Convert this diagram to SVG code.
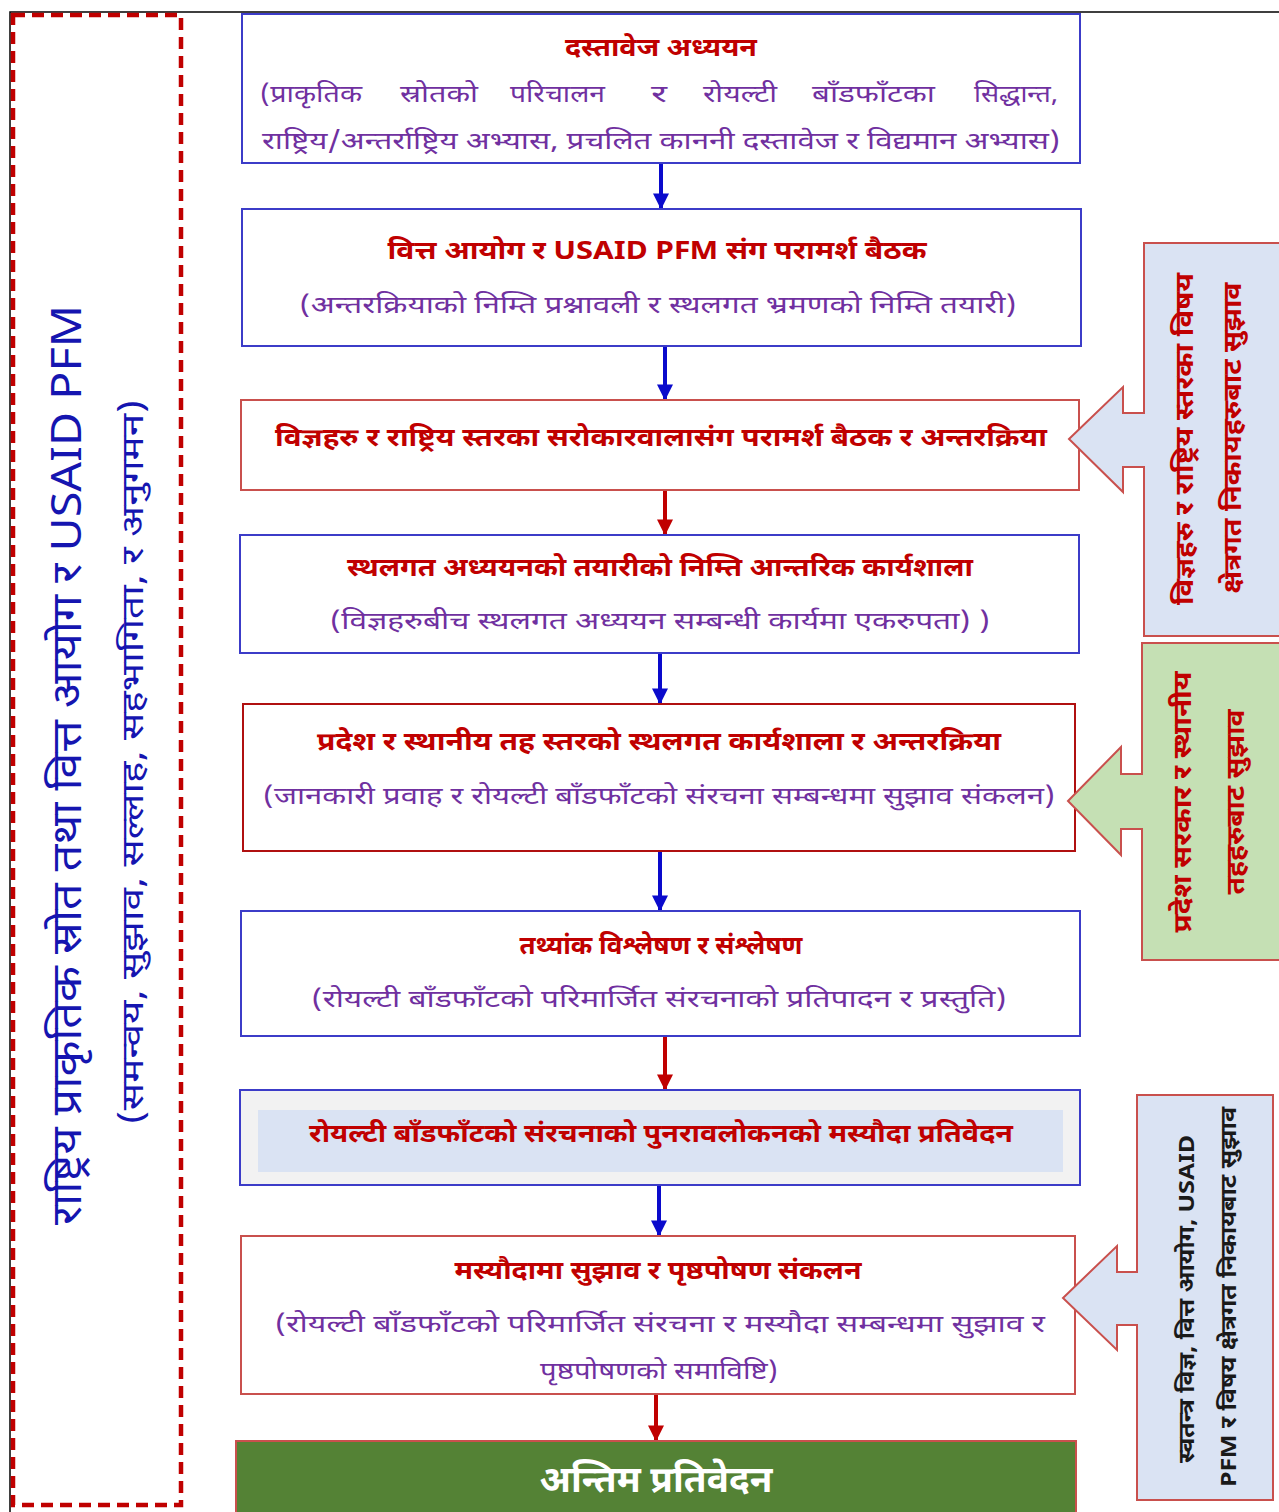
<svg xmlns="http://www.w3.org/2000/svg" width="1279" height="1512" viewBox="0 0 1279 1512">
<defs>
<style>
.t{font-family:"Noto Sans Devanagari","Lohit Devanagari","Noto Sans","DejaVu Sans",sans-serif;}
.title{font-size:25px;fill:#c00000;font-weight:bold;text-anchor:middle;}
.body{font-size:24px;fill:#7030a0;text-anchor:middle;}
.w{font-size:24px;fill:#7030a0;}
.bb{fill:#ffffff;stroke:#3c3cc8;stroke-width:2;}
.rb{fill:#ffffff;stroke:#c9504d;stroke-width:2;}
.side{font-size:25px;fill:#c00000;text-anchor:middle;font-weight:bold;}
.callout{stroke:#c9504d;stroke-width:2;stroke-linejoin:miter;}
.ab{stroke:#0a0acc;stroke-width:4;fill:none;}
.ar{stroke:#c00000;stroke-width:4;fill:none;}
</style>
<marker id="mb" viewBox="0 0 10 10" refX="9" refY="5" markerWidth="4.5" markerHeight="4" orient="auto" markerUnits="strokeWidth"><path d="M0,0 L10,5 L0,10 z" fill="#0a0acc"/></marker>
<marker id="mr" viewBox="0 0 10 10" refX="9" refY="5" markerWidth="4.5" markerHeight="4" orient="auto" markerUnits="strokeWidth"><path d="M0,0 L10,5 L0,10 z" fill="#c00000"/></marker>
</defs>
<rect width="1279" height="1512" fill="#ffffff"/>
<g id="frame">
<path d="M10,1512 L10,12 L1279,12" fill="none" stroke="#000" stroke-width="1.5"/>
<rect x="13" y="15" width="168" height="1490" fill="none" stroke="#c00000" stroke-width="4.5" stroke-dasharray="12 7"/>
</g>
<g id="left-label" class="t">
<text x="70" y="765" transform="rotate(-90 70 765)" font-size="42" fill="#1515b0" text-anchor="middle" dominant-baseline="central" textLength="920" lengthAdjust="spacingAndGlyphs">राष्ट्रिय प्राकृतिक स्रोत तथा वित्त आयोग र USAID PFM</text>
<text x="135" y="762" transform="rotate(-90 135 762)" font-size="31" fill="#1515b0" text-anchor="middle" dominant-baseline="central" textLength="725" lengthAdjust="spacingAndGlyphs">(समन्वय, सुझाव, सल्लाह, सहभागिता, र अनुगमन)</text>
</g>
<g id="connectors">
<line class="ab" x1="661" y1="163" x2="661" y2="208" marker-end="url(#mb)"/>
<line class="ab" x1="665" y1="346" x2="665" y2="399" marker-end="url(#mb)"/>
<line class="ar" x1="665" y1="490" x2="665" y2="534" marker-end="url(#mr)"/>
<line class="ab" x1="660" y1="653" x2="660" y2="703" marker-end="url(#mb)"/>
<line class="ab" x1="660" y1="851" x2="660" y2="910" marker-end="url(#mb)"/>
<line class="ar" x1="665" y1="1036" x2="665" y2="1089" marker-end="url(#mr)"/>
<line class="ab" x1="659" y1="1185" x2="659" y2="1235" marker-end="url(#mb)"/>
<line class="ar" x1="656" y1="1394" x2="656" y2="1440" marker-end="url(#mr)"/>
</g>
<g id="n1" class="t">
<rect class="bb" x="242" y="14" width="838" height="149"/>
<text class="title" x="661" y="56" textLength="192" lengthAdjust="spacingAndGlyphs">दस्तावेज अध्ययन</text>
<text class="w" x="260" y="102" textLength="102" lengthAdjust="spacingAndGlyphs">(प्राकृतिक</text>
<text class="w" x="400" y="102" textLength="78" lengthAdjust="spacingAndGlyphs">स्रोतको</text>
<text class="w" x="510" y="102" textLength="95" lengthAdjust="spacingAndGlyphs">परिचालन</text>
<text class="w" x="651" y="102" textLength="16" lengthAdjust="spacingAndGlyphs">र</text>
<text class="w" x="703" y="102" textLength="74" lengthAdjust="spacingAndGlyphs">रोयल्टी</text>
<text class="w" x="812" y="102" textLength="123" lengthAdjust="spacingAndGlyphs">बाँडफाँटका</text>
<text class="w" x="974" y="102" textLength="84" lengthAdjust="spacingAndGlyphs">सिद्धान्त,</text>
<text class="body" x="661" y="149" textLength="798" lengthAdjust="spacingAndGlyphs">राष्ट्रिय/अन्तर्राष्ट्रिय अभ्यास, प्रचलित काननी दस्तावेज र  विद्यमान अभ्यास)</text>
</g>
<g id="n2" class="t">
<rect class="bb" x="242" y="209" width="839" height="137"/>
<text class="title" x="657" y="259" textLength="539" lengthAdjust="spacingAndGlyphs">वित्त आयोग र USAID PFM संग परामर्श बैठक</text>
<text class="body" x="658" y="313" textLength="717" lengthAdjust="spacingAndGlyphs">(अन्तरक्रियाको निम्ति प्रश्नावली र स्थलगत भ्रमणको निम्ति तयारी)</text>
</g>
<g id="n3" class="t">
<rect class="rb" x="241" y="400" width="838" height="90"/>
<text class="title" x="661" y="446" textLength="772" lengthAdjust="spacingAndGlyphs">विज्ञहरु र राष्ट्रिय स्तरका सरोकारवालासंग परामर्श बैठक र अन्तरक्रिया</text>
</g>
<g id="n4" class="t">
<rect class="bb" x="240" y="535" width="839" height="118"/>
<text class="title" x="660" y="576" textLength="626" lengthAdjust="spacingAndGlyphs">स्थलगत अध्ययनको तयारीको निम्ति आन्तरिक कार्यशाला</text>
<text class="body" x="660" y="629" textLength="660" lengthAdjust="spacingAndGlyphs">(विज्ञहरुबीच स्थलगत अध्ययन सम्बन्धी कार्यमा एकरुपता) )</text>
</g>
<g id="n5" class="t">
<rect x="243" y="704" width="832" height="147" fill="#fff" stroke="#b01010" stroke-width="2"/>
<text class="title" x="659" y="750" textLength="684" lengthAdjust="spacingAndGlyphs">प्रदेश र स्थानीय तह स्तरको स्थलगत कार्यशाला र अन्तरक्रिया</text>
<text class="body" x="659" y="804" textLength="792" lengthAdjust="spacingAndGlyphs">(जानकारी प्रवाह र रोयल्टी बाँडफाँटको संरचना सम्बन्धमा सुझाव संकलन)</text>
</g>
<g id="n6" class="t">
<rect class="bb" x="241" y="911" width="839" height="125"/>
<text class="title" x="661" y="954" textLength="283" lengthAdjust="spacingAndGlyphs">तथ्यांक विश्लेषण र संश्लेषण</text>
<text class="body" x="659" y="1007" textLength="695" lengthAdjust="spacingAndGlyphs">(रोयल्टी बाँडफाँटको परिमार्जित संरचनाको प्रतिपादन र  प्रस्तुति)</text>
</g>
<g id="n7" class="t">
<rect x="240" y="1090" width="840" height="95" fill="#f2f2f2" stroke="#3c3cc8" stroke-width="2"/>
<rect x="258" y="1110" width="805" height="62" fill="#dae3f3"/>
<text class="title" x="661" y="1142" textLength="704" lengthAdjust="spacingAndGlyphs">रोयल्टी बाँडफाँटको संरचनाको पुनरावलोकनको मस्यौदा प्रतिवेदन</text>
</g>
<g id="n8" class="t">
<rect class="rb" x="241" y="1236" width="834" height="158"/>
<text class="title" x="658" y="1279" textLength="407" lengthAdjust="spacingAndGlyphs">मस्यौदामा सुझाव र पृष्ठपोषण संकलन</text>
<text class="body" x="660" y="1332" textLength="770" lengthAdjust="spacingAndGlyphs">(रोयल्टी बाँडफाँटको परिमार्जित संरचना र मस्यौदा सम्बन्धमा सुझाव र</text>
<text class="body" x="659" y="1379" textLength="238" lengthAdjust="spacingAndGlyphs">पृष्ठपोषणको समाविष्टि)</text>
</g>
<g id="n9" class="t">
<rect x="236" y="1441" width="840" height="75" fill="#548235" stroke="#c9504d" stroke-width="2"/>
<text x="656" y="1492" font-size="36" fill="#ffffff" text-anchor="middle" font-weight="bold" textLength="233" lengthAdjust="spacingAndGlyphs">अन्तिम प्रतिवेदन</text>
</g>
<g id="c1" class="t">
<path class="callout" fill="#dae3f3" d="M1069,439 L1123,387 L1123,413 L1144,413 L1144,243 L1281,243 L1281,636 L1144,636 L1144,467 L1123,467 L1123,492 Z"/>
<text class="side" x="1187" y="439" transform="rotate(-90 1187 439)" dominant-baseline="central" textLength="332" lengthAdjust="spacingAndGlyphs">विज्ञहरु र राष्ट्रिय स्तरका विषय</text>
<text class="side" x="1235" y="438" transform="rotate(-90 1235 438)" dominant-baseline="central" textLength="311" lengthAdjust="spacingAndGlyphs">क्षेत्रगत निकायहरुबाट सुझाव</text>
</g>
<g id="c2" class="t">
<path class="callout" fill="#c5e0b4" d="M1068,801 L1121,747 L1121,774 L1142,774 L1142,643 L1281,643 L1281,960 L1142,960 L1142,829 L1121,829 L1121,855 Z"/>
<text class="side" x="1185" y="802" transform="rotate(-90 1185 802)" dominant-baseline="central" textLength="261" lengthAdjust="spacingAndGlyphs">प्रदेश सरकार र स्थानीय</text>
<text class="side" x="1238" y="802" transform="rotate(-90 1238 802)" dominant-baseline="central" textLength="185" lengthAdjust="spacingAndGlyphs">तहहरुबाट  सुझाव</text>
</g>
<g id="c3" class="t">
<path class="callout" fill="#dae3f3" d="M1063,1298 L1117,1246 L1117,1272 L1137,1272 L1137,1095 L1273,1095 L1273,1500 L1137,1500 L1137,1325 L1117,1325 L1117,1350 Z"/>
<text x="1188" y="1299" transform="rotate(-90 1188 1299)" font-size="22" fill="#1a1a1a" font-weight="bold" text-anchor="middle" dominant-baseline="central" textLength="328" lengthAdjust="spacingAndGlyphs">स्वतन्त्र विज्ञ, वित्त आयोग, USAID</text>
<text x="1230" y="1297" transform="rotate(-90 1230 1297)" font-size="22" fill="#1a1a1a" font-weight="bold" text-anchor="middle" dominant-baseline="central" textLength="380" lengthAdjust="spacingAndGlyphs">PFM र विषय क्षेत्रगत निकायबाट सुझाव</text>
</g>
</svg>
